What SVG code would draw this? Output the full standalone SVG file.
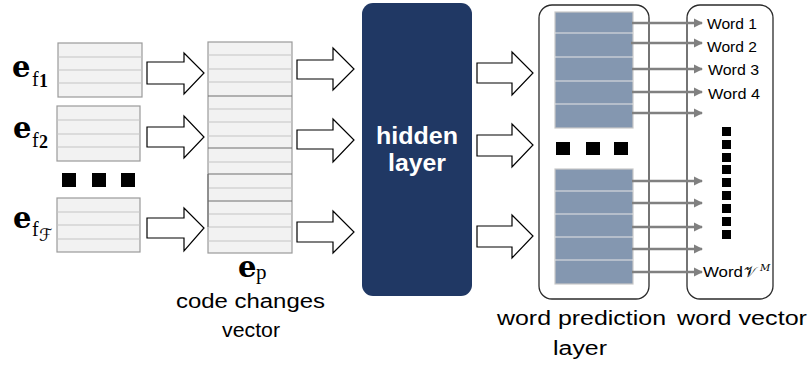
<svg xmlns="http://www.w3.org/2000/svg" width="810" height="367" viewBox="0 0 810 367">
  <defs>
    <style>
      .vec { fill: #f2f2f2; stroke: #9a9a9a; stroke-width: 1.2; }
      .row { stroke: #c4c4c4; stroke-width: 1.2; }
      .rowd { stroke: #6f6f6f; stroke-width: 1.2; }
      .blk { fill: #ffffff; stroke: #000000; stroke-width: 1.2; stroke-linejoin: miter; }
      .sq { fill: #000000; }
      .pred { fill: #8497b0; stroke: #c8c8c8; stroke-width: 1.2; }
      .prow { stroke: #e6e6e6; stroke-width: 1.2; }
      .frame { fill: #ffffff; stroke: #2b2b2b; stroke-width: 1.3; }
      .out { stroke: #808080; stroke-width: 2.6; fill: none; marker-end: url(#tri); }
      .sans { font-family: "Liberation Sans", Arial, sans-serif; fill: #000000; }
      .serif { font-family: "Liberation Serif", "DejaVu Serif", serif; fill: #000000; }
      .bold-e { font-family: "DejaVu Serif", "Liberation Serif", serif; font-weight: bold; font-size: 29px; fill: #000000; }
      .math { font-family: "DejaVu Serif", "DejaVu Sans", "Noto Sans", serif; fill: #000000; }
    </style>
    <marker id="tri" viewBox="0 0 10 10" refX="9" refY="5" markerWidth="3.6" markerHeight="3.6" orient="auto" markerUnits="strokeWidth">
      <path d="M0,0 L10,5 L0,10 Z" fill="#808080"/>
    </marker>
  </defs>

  <!-- feature embeddings -->
  <g id="ef1">
    <rect class="vec" x="58" y="43" width="84" height="54"/>
    <line class="row" x1="58" y1="57" x2="142" y2="57"/>
    <line class="row" x1="58" y1="70" x2="142" y2="70"/>
    <line class="row" x1="58" y1="83" x2="142" y2="83"/>
    <text class="bold-e" x="12" y="77">e</text>
    <text class="serif" x="32" y="86" font-size="20">f</text>
    <text class="serif" x="39" y="87" font-size="18" font-weight="bold">1</text>
  </g>
  <g id="ef2">
    <rect class="vec" x="57" y="106" width="83" height="55"/>
    <line class="row" x1="57" y1="120" x2="140" y2="120"/>
    <line class="row" x1="57" y1="134" x2="140" y2="134"/>
    <line class="row" x1="57" y1="147" x2="140" y2="147"/>
    <text class="bold-e" x="13" y="138">e</text>
    <text class="serif" x="32" y="147" font-size="20">f</text>
    <text class="serif" x="39" y="148" font-size="18" font-weight="bold">2</text>
  </g>
  <g id="dots-left">
    <rect class="sq" x="62" y="173" width="14" height="14"/>
    <rect class="sq" x="92" y="173" width="14" height="14"/>
    <rect class="sq" x="121" y="173" width="14" height="14"/>
  </g>
  <g id="efF">
    <rect class="vec" x="57" y="198" width="83" height="54"/>
    <line class="row" x1="57" y1="212" x2="140" y2="212"/>
    <line class="row" x1="57" y1="225" x2="140" y2="225"/>
    <line class="row" x1="57" y1="239" x2="140" y2="239"/>
    <text class="bold-e" x="13" y="228">e</text>
    <text class="serif" x="32" y="236" font-size="20">f</text>
    <text class="math" x="39" y="241" font-size="17" font-style="italic">ℱ</text>
  </g>

  <!-- concatenated code changes vector -->
  <g id="ep">
    <rect class="vec" x="208" y="42" width="84" height="211"/>
    <line class="row" x1="208" y1="55" x2="292" y2="55"/>
    <line class="row" x1="208" y1="69" x2="292" y2="69"/>
    <line class="row" x1="208" y1="82" x2="292" y2="82"/>
    <line class="rowd" x1="208" y1="96" x2="292" y2="96"/>
    <line class="row" x1="208" y1="109" x2="292" y2="109"/>
    <line class="row" x1="208" y1="122" x2="292" y2="122"/>
    <line class="row" x1="208" y1="136" x2="292" y2="136"/>
    <line class="rowd" x1="208" y1="148" x2="292" y2="148"/>
    <line class="row" x1="208" y1="162" x2="292" y2="162"/>
    <line class="rowd" x1="208" y1="174" x2="292" y2="174"/>
    <line class="row" x1="208" y1="188" x2="292" y2="188"/>
    <line class="rowd" x1="208" y1="201" x2="292" y2="201"/>
    <line class="row" x1="208" y1="214" x2="292" y2="214"/>
    <line class="row" x1="208" y1="227" x2="292" y2="227"/>
    <line class="row" x1="208" y1="241" x2="292" y2="241"/>
    <line class="rowd" x1="208" y1="174" x2="208" y2="227"/>
    <text class="bold-e" x="238" y="277">e</text>
    <text class="serif" x="256" y="279" font-size="21">p</text>
    <text class="sans" x="250.5" y="308" font-size="20" text-anchor="middle" textLength="149" lengthAdjust="spacingAndGlyphs">code changes</text>
    <text class="sans" x="251" y="337" font-size="20" text-anchor="middle" textLength="58" lengthAdjust="spacingAndGlyphs">vector</text>
  </g>

  <!-- hidden layer -->
  <g id="hidden">
    <rect x="362" y="3" width="110" height="293" rx="11" fill="#203864"/>
    <text class="sans" x="417" y="144" font-size="23" font-weight="bold" style="fill:#ffffff" text-anchor="middle" textLength="82" lengthAdjust="spacingAndGlyphs">hidden</text>
    <text class="sans" x="417" y="171" font-size="23" font-weight="bold" style="fill:#ffffff" text-anchor="middle" textLength="58" lengthAdjust="spacingAndGlyphs">layer</text>
  </g>

  <!-- word prediction layer -->
  <g id="prediction">
    <rect class="frame" x="539" y="5" width="110" height="294" rx="13"/>
    <rect class="pred" x="555" y="12" width="78" height="116"/>
    <line class="prow" x1="555" y1="33" x2="633" y2="33"/>
    <line class="prow" x1="555" y1="57" x2="633" y2="57"/>
    <line class="prow" x1="555" y1="81" x2="633" y2="81"/>
    <line class="prow" x1="555" y1="104" x2="633" y2="104"/>
    <rect class="sq" x="556" y="142" width="14" height="13"/>
    <rect class="sq" x="586" y="142" width="14" height="13"/>
    <rect class="sq" x="614" y="142" width="14" height="13"/>
    <rect class="pred" x="555" y="169" width="78" height="115"/>
    <line class="prow" x1="555" y1="191" x2="633" y2="191"/>
    <line class="prow" x1="555" y1="214" x2="633" y2="214"/>
    <line class="prow" x1="555" y1="237" x2="633" y2="237"/>
    <line class="prow" x1="555" y1="260" x2="633" y2="260"/>
    <text class="sans" x="581.5" y="325" font-size="20" text-anchor="middle" textLength="169" lengthAdjust="spacingAndGlyphs">word prediction</text>
    <text class="sans" x="580" y="355" font-size="20" text-anchor="middle" textLength="54" lengthAdjust="spacingAndGlyphs">layer</text>
  </g>

  <!-- word vector -->
  <g id="words">
    <rect class="frame" x="687" y="5" width="86" height="294" rx="13"/>
    <text class="sans" x="707" y="29" font-size="14" textLength="50" lengthAdjust="spacingAndGlyphs">Word 1</text>
    <text class="sans" x="707" y="52" font-size="14" textLength="50" lengthAdjust="spacingAndGlyphs">Word 2</text>
    <text class="sans" x="708" y="75" font-size="14" textLength="51" lengthAdjust="spacingAndGlyphs">Word 3</text>
    <text class="sans" x="708" y="99" font-size="14" textLength="52" lengthAdjust="spacingAndGlyphs">Word 4</text>
    <g id="dots-words">
      <rect class="sq" x="722" y="127" width="9" height="9"/>
      <rect class="sq" x="722" y="140" width="9" height="9"/>
      <rect class="sq" x="722" y="153" width="9" height="9"/>
      <rect class="sq" x="722" y="165" width="9" height="9"/>
      <rect class="sq" x="722" y="178" width="9" height="9"/>
      <rect class="sq" x="722" y="191" width="9" height="9"/>
      <rect class="sq" x="722" y="204" width="9" height="9"/>
      <rect class="sq" x="722" y="217" width="9" height="9"/>
      <rect class="sq" x="722" y="230" width="9" height="9"/>
    </g>
    <text class="sans" x="703" y="277" font-size="14"><tspan textLength="40" lengthAdjust="spacingAndGlyphs">Word</tspan><tspan class="math" x="744" font-size="15">𝒱</tspan><tspan class="math" x="760" dy="-6" font-size="10" font-style="italic">M</tspan></text>
    <text class="sans" x="742" y="325" font-size="20" text-anchor="middle" textLength="130" lengthAdjust="spacingAndGlyphs">word vector</text>
  </g>

  <!-- connectors -->
  <g id="connectors">
    <!-- block arrows: features into the code changes vector -->
    <path class="blk" d="M147,62 H184 V53 L204,73 L184,94 V84 H147 Z"/>
    <path class="blk" d="M147,127 H184 V116 L204,137 L184,158 V147 H147 Z"/>
    <path class="blk" d="M147,218 H184 V208 L204,228 L184,251 V238 H147 Z"/>
    <!-- block arrows: code changes vector into hidden layer -->
    <path class="blk" d="M297,60 H333 V48 L354,69 L333,90 V79 H297 Z"/>
    <path class="blk" d="M297,130 H333 V119 L354,140 L333,162 V149 H297 Z"/>
    <path class="blk" d="M297,222 H333 V211 L354,232 L333,253 V242 H297 Z"/>
    <!-- block arrows: hidden layer into word prediction layer -->
    <path class="blk" d="M477,63 H512 V52 L533,73 L512,95 V83 H477 Z"/>
    <path class="blk" d="M477,135 H512 V124 L533,145 L512,167 V156 H477 Z"/>
    <path class="blk" d="M477,226 H512 V215 L533,236 L512,258 V247 H477 Z"/>
    <!-- prediction outputs -->
    <line class="out" x1="632" y1="23" x2="702" y2="23"/>
    <line class="out" x1="631" y1="43" x2="702" y2="43"/>
    <line class="out" x1="632" y1="69" x2="702" y2="69"/>
    <line class="out" x1="632" y1="92" x2="702" y2="92"/>
    <line class="out" x1="632" y1="113" x2="702" y2="113"/>
    <line class="out" x1="632" y1="181" x2="702" y2="181"/>
    <line class="out" x1="632" y1="203" x2="702" y2="203"/>
    <line class="out" x1="632" y1="227" x2="702" y2="227"/>
    <line class="out" x1="632" y1="249" x2="702" y2="249"/>
    <line class="out" x1="632" y1="272" x2="702" y2="272"/>
  </g>
</svg>
